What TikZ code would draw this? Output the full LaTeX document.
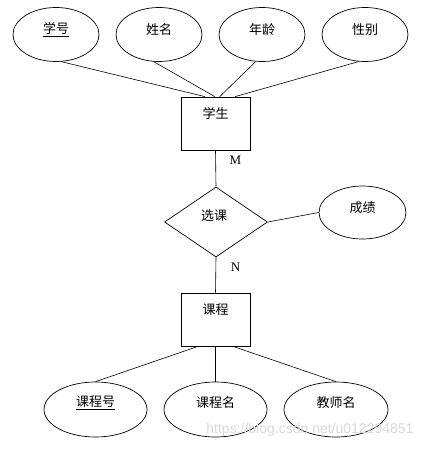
\documentclass[tikz,border=0pt]{standalone}
\usepackage{fontspec}
\setmainfont{Liberation Serif}
\newfontfamily\cjk{Noto Sans CJK SC}
\newfontfamily\wmfont{Liberation Sans}
\usetikzlibrary{shapes.geometric,calc}
\begin{document}
\begin{tikzpicture}[x=1pt,y=-1pt,
  attr/.style={draw,ellipse,line width=0.7pt,minimum width=86pt,minimum height=54pt,inner sep=0pt},
  ent/.style={draw,rectangle,line width=0.7pt,minimum width=69pt,minimum height=53pt,inner sep=0pt},
  rel/.style={draw,diamond,line width=0.7pt,minimum width=103pt,minimum height=70pt,inner sep=0pt,aspect=1.47},
  lbl/.style={font=\cjk\fontsize{13}{15}\selectfont},
  conn/.style={line width=0.6pt},
  card/.style={font=\fontsize{13}{15}\selectfont}]
\useasboundingbox (0,0) rectangle (423,449);
\fill[white] (0,0) rectangle (423,449);
% top attributes
\node[attr,label={[lbl,yshift=5pt]center:\underline{学号}}] (a1) at (56,34.5) {};
\node[attr,label={[lbl,yshift=5pt]center:姓名}] (a2) at (159,34.5) {};
\node[attr,label={[lbl,yshift=5pt]center:年龄}] (a3) at (262,34.5) {};
\node[attr,label={[lbl,yshift=5pt]center:性别}] (a4) at (365,34.5) {};
% student
\node[ent,label={[lbl,yshift=10pt]center:学生}] (s) at (215.5,123.5) {};
% relationship
\node[rel] (r) at (216,222) {};
\node[lbl] (rt) at (214,216) {选课};
% grade
\node[attr,minimum width=87pt,minimum height=53pt,label={[lbl,yshift=5pt]center:成绩}] (g) at (362.5,212.5) {};
% course
\node[ent,label={[lbl,yshift=10pt]center:课程}] (c) at (215.5,319.5) {};
% bottom attributes
\node[attr,minimum width=103pt,minimum height=55pt,label={[lbl,yshift=7pt]center:\underline{课程号}}] (b1) at (95.5,409.5) {};
\node[attr,minimum width=103pt,minimum height=55pt,label={[lbl,yshift=7pt]center:课程名}] (b2) at (215.5,409.5) {};
\node[attr,minimum width=104pt,minimum height=55pt,label={[lbl,yshift=7pt]center:教师名}] (b3) at (336,409.5) {};
% cardinalities
\node[card] (m) at (235.5,160) {M};
\node[card] (n) at (235.5,267) {N};
% connectors
\coordinate (s1) at ($(s.north west)!0.35!(s.north east)$);
\coordinate (s2) at ($(s.north west)!0.49!(s.north east)$);
\coordinate (s3) at ($(s.north west)!0.56!(s.north east)$);
\coordinate (s4) at ($(s.north west)!0.78!(s.north east)$);
\draw[conn] (a1.-79) -- (s1);
\draw[conn] (a2.-101) -- (s2);
\draw[conn] (a3.-103) -- (s3);
\draw[conn] (a4.-103) -- (s4);
\draw[conn] (s.south) -- (r.north);
\draw[conn] (r.east) -- (g.west);
\draw[conn] (r.south) -- (c.north);
\coordinate (c1) at ($(c.south west)!0.25!(c.south east)$);
\coordinate (c3) at ($(c.south west)!0.75!(c.south east)$);
\draw[conn] (c1) -- (b1.north);
\draw[conn] (c.south) -- (b2.north);
\draw[conn] (c3) -- (b3.north);
% watermark
\node[font=\wmfont\fontsize{14}{16}\selectfont,text=gray!30,anchor=east] (wm) at (417,430) {https://blog.csdn.net/u012294851};
\end{tikzpicture}
\end{document}
